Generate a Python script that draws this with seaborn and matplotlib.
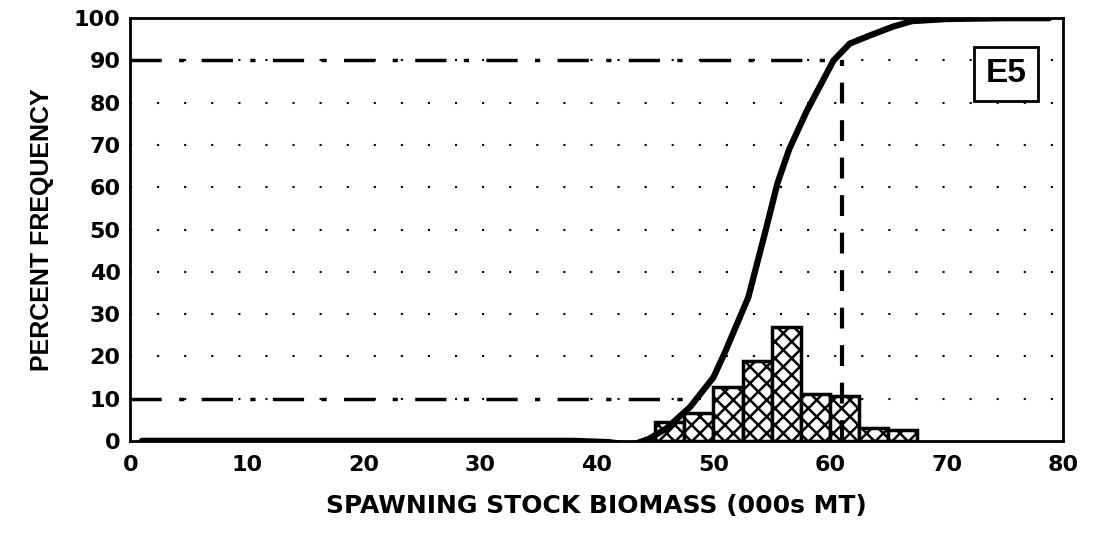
import numpy as np
import pandas as pd
import matplotlib
matplotlib.use("Agg")
import matplotlib.pyplot as plt
import seaborn as sns

# histogram bins (000s MT) and percent frequency
bin_edges = [45, 47.5, 50, 52.5, 55, 57.5, 60, 62.5, 65, 67.5]
bin_pct = [4.5, 6.5, 12.8, 19, 27, 11, 10.5, 3, 2.5]

# cumulative curve
cum_x = [1, 10, 20, 30, 38, 41, 43, 44.5, 46, 48, 50, 51, 53, 54.5, 55.5, 56.5, 58, 60.3, 61.7, 63.5, 65.4, 67, 70, 75, 78.8]
cum_y = [0, 0, 0, 0, 0, -0.3, -1.0, 0.5, 3, 8, 15, 21, 34, 50, 61, 69, 78, 90, 94, 96, 98, 99.3, 99.8, 100, 100]

p10_x, p90_x = 48, 61

sns.set_style("white")
plt.rcParams["font.family"] = ["DejaVu Sans"]
plt.rcParams["hatch.linewidth"] = 1.8
plt.rcParams["text.color"] = "black"
plt.rcParams["axes.labelcolor"] = "black"
plt.rcParams["xtick.color"] = "black"
plt.rcParams["ytick.color"] = "black"

fig = plt.figure(figsize=(10.95, 5.35), dpi=100)
ax = fig.add_axes([0.119, 0.176, 0.852, 0.79])

# hatched histogram
centers = [(a + b) / 2 for a, b in zip(bin_edges[:-1], bin_edges[1:])]
sns.histplot(x=centers, weights=bin_pct, bins=bin_edges, ax=ax,
             color="white", edgecolor="black", linewidth=2.5, alpha=1)
for p in ax.patches:
    p.set_hatch("xx")
    p.set_facecolor("white")

# cumulative distribution
sns.lineplot(x=cum_x, y=cum_y, ax=ax, color="black", linewidth=4.5, sort=False)

# 10% / 90% reference lines
ax.plot([0, p90_x], [90, 90], color="black", lw=2.5, dashes=(9, 5, 1.5, 5))
ax.plot([0, p10_x], [10, 10], color="black", lw=2.5, dashes=(9, 5, 1.5, 5))
ax.plot([p90_x, p90_x], [0, 90], color="black", lw=3, dashes=(5, 4))

# dotted horizontal grid
for yv in range(10, 100, 10):
    ax.axhline(yv, color="black", lw=1.5, ls=(0, (1, 12)), zorder=0)

ax.text(75.1, 86.8, "E5", fontsize=24, fontweight="bold", ha="center", va="center",
        family="Liberation Sans",
        bbox=dict(boxstyle="square,pad=0.35", fc="white", ec="black", lw=2))

ax.set_xlim(0, 80)
ax.set_ylim(0, 100)
ax.set_xticks(range(0, 81, 10))
ax.set_yticks(range(0, 101, 10))
ax.tick_params(axis="x", direction="in", length=6, width=1.5, labelsize=16, pad=10)
ax.tick_params(axis="y", direction="in", length=6, width=1.5, labelsize=16, pad=7)
for lab in ax.get_xticklabels() + ax.get_yticklabels():
    lab.set_fontweight("heavy")
for s in ax.spines.values():
    s.set_color("black")
    s.set_linewidth(2)

ax.set_xlabel("SPAWNING STOCK BIOMASS (000s MT)", fontsize=18, fontweight="heavy", labelpad=14)
ax.set_ylabel("PERCENT FREQUENCY", fontsize=18, fontweight="bold", labelpad=14,
              family="Liberation Sans")

fig.savefig("out.png", dpi=100)
